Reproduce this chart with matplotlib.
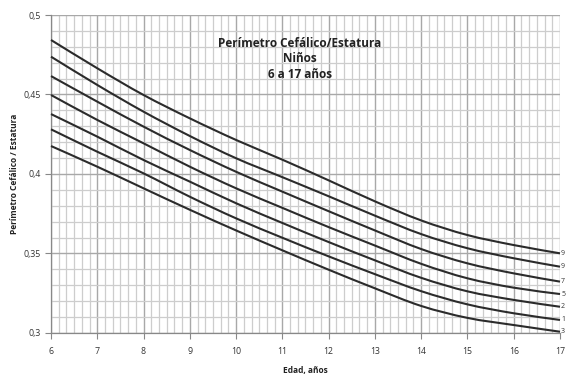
import numpy as np
import matplotlib
matplotlib.use("Agg")
import matplotlib.pyplot as plt
from matplotlib.path import Path
from matplotlib.patches import PathPatch
from matplotlib.ticker import MultipleLocator, FuncFormatter

# Data
ages = [6, 7, 8, 9, 10, 11, 12, 13, 14, 15, 16, 17]
p97 = [0.4843, 0.4665, 0.4497, 0.4350, 0.4214, 0.4090, 0.3960, 0.3828, 0.3708, 0.3616, 0.3553, 0.3501]
p90 = [0.4738, 0.4560, 0.4392, 0.4239, 0.4099, 0.3980, 0.3860, 0.3738, 0.3622, 0.3533, 0.3470, 0.3417]
p75 = [0.4616, 0.4455, 0.4298, 0.4151, 0.4014, 0.3889, 0.3766, 0.3645, 0.3528, 0.3438, 0.3375, 0.3323]
p50 = [0.4497, 0.4340, 0.4193, 0.4046, 0.3910, 0.3787, 0.3666, 0.3550, 0.3435, 0.3344, 0.3285, 0.3245]
p25 = [0.4377, 0.4235, 0.4088, 0.3952, 0.3816, 0.3692, 0.3572, 0.3457, 0.3347, 0.3262, 0.3208, 0.3165]
p10 = [0.4281, 0.4140, 0.4004, 0.3857, 0.3721, 0.3599, 0.3482, 0.3370, 0.3263, 0.3180, 0.3124, 0.3082]
p3 = [0.4176, 0.4046, 0.3910, 0.3775, 0.3645, 0.3520, 0.3398, 0.3281, 0.3170, 0.3095, 0.3050, 0.3008]
series = [p97, p90, p75, p50, p25, p10, p3]
end_labels = ["9", "9", "7", "5", "2", "1", "3"]

title = "Perímetro Cefálico/Estatura\nNiños\n6 a 17 años"
xlabel = "Edad, años"
ylabel = "Perímetro Cefálico / Estatura"

plt.rcParams['font.family'] = ['Open Sans', 'DejaVu Sans']

fig = plt.figure(figsize=(5.66, 3.76), dpi=100)
ax = fig.add_axes([0.0901, 0.1144, 0.8993, 0.8457])
ax.set_xlim(6, 17)
ax.set_ylim(0.3, 0.5)

ax.xaxis.set_major_locator(MultipleLocator(1))
ax.xaxis.set_minor_locator(MultipleLocator(1/6))
ax.yaxis.set_major_locator(MultipleLocator(0.05))
ax.yaxis.set_minor_locator(MultipleLocator(0.01))
ax.grid(which='major', color='#a8a8a8', linewidth=1.0)
ax.grid(which='minor', color='#cdcdcd', linewidth=0.9)
ax.set_axisbelow(True)

def fmt(v, pos):
    s = ('%.2f' % v).rstrip('0').rstrip('.')
    return s.replace('.', ',')
ax.yaxis.set_major_formatter(FuncFormatter(fmt))

ax.tick_params(which='minor', length=0)
ax.tick_params(which='major', length=4, color='#888888', labelsize=6.3, labelcolor='#333333', width=0.8)
ax.tick_params(axis='x', pad=6)
for s in ['top', 'right']:
    ax.spines[s].set_visible(False)
for s in ['left', 'bottom']:
    ax.spines[s].set_color('#888888')
    ax.spines[s].set_linewidth(0.9)


def smooth_path(xs, ys):
    xs = np.asarray(xs, float)
    ys = np.asarray(ys, float)
    verts = [(xs[0], ys[0])]
    codes = [Path.MOVETO]
    n = len(xs)
    for i in range(n - 1):
        x0, y0 = (xs[i - 1], ys[i - 1]) if i > 0 else (xs[i], ys[i])
        x1, y1 = xs[i], ys[i]
        x2, y2 = xs[i + 1], ys[i + 1]
        x3, y3 = (xs[i + 2], ys[i + 2]) if i + 2 < n else (xs[i + 1], ys[i + 1])
        c1 = (x1 + (x2 - x0) / 6, y1 + (y2 - y0) / 6)
        c2 = (x2 - (x3 - x1) / 6, y2 - (y3 - y1) / 6)
        verts += [c1, c2, (x2, y2)]
        codes += [Path.CURVE4] * 3
    return Path(verts, codes)

for vals in series:
    patch = PathPatch(smooth_path(ages, vals), facecolor='none', edgecolor='#2b2b2b',
                      linewidth=1.5, transform=ax.transData, clip_on=False, zorder=3)
    ax.add_patch(patch)

for vals, lab in zip(series, end_labels):
    ax.annotate(lab, xy=(ages[-1], vals[-1]), xytext=(0.8, 0), textcoords='offset points',
                fontsize=5, color='#333333', va='center', ha='left', annotation_clip=False)

ax.text(11.38, 0.4862, title, ha='center', va='top', fontsize=8.5, fontweight='bold',
        color='#222222', linespacing=1.25)

ax.set_xlabel(xlabel, fontsize=6, fontweight='bold', color='#222222', labelpad=7)
ax.set_ylabel(ylabel, fontsize=6, fontweight='bold', color='#222222', labelpad=3)

fig.savefig("out.png", dpi=100)
